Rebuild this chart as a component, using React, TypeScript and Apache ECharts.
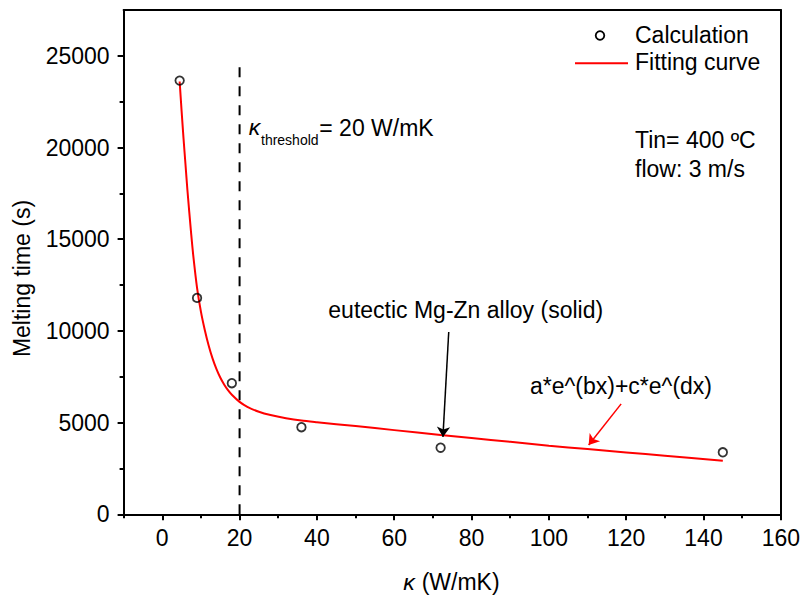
import React, { useEffect, useRef } from 'react';
import * as echarts from 'echarts';

// Calculated points
const calcX = [4.5, 9, 18, 36, 72, 145];
const calcY = [23650, 11800, 7150, 4750, 3630, 3380];

// Fitting curve
const fitX = [4.5, 5, 5.5, 6, 6.5, 7, 7.5, 8, 9, 10, 11, 12, 13, 14, 15, 16, 17, 18, 20, 22, 25, 28, 32, 36, 40, 50, 60, 72, 80, 90, 100, 110, 120, 130, 145];
const fitY = [23600, 22000, 20500, 19100, 17700, 16450, 15250, 14150, 12350, 11050, 10050, 9200, 8500, 7930, 7460, 7080, 6770, 6520, 6130, 5860, 5590, 5410, 5240, 5110, 5020, 4810, 4590, 4320, 4160, 3950, 3740, 3555, 3375, 3195, 2925];

// Threshold dashed line
const threshX = [20, 20];
const threshY = [0, 24400];

// Annotation arrows [start, end] in data coordinates
const alloyArrow = [[74.1, 9940], [72.6, 4220]];
const fitArrow = [[118.7, 6020], [110.3, 3780]];

// Ticks
const xMajor = [0, 20, 40, 60, 80, 100, 120, 140, 160];
const xMinor = [-10, 10, 30, 50, 70, 90, 110, 130, 150];
const yMajor = [0, 5000, 10000, 15000, 20000, 25000];
const yMinor = [2500, 7500, 12500, 17500, 22500];

const FONT = '"Liberation Sans", Arial, Helvetica, sans-serif';
const FS = 23;

export default function App() {
  const ref = useRef<HTMLDivElement>(null);
  useEffect(() => {
    const chart = echarts.init(ref.current!, null, { renderer: 'svg' });
    const axisLineStyle = { color: '#000', width: 2 };
    const txt = (text: string, x: number, y: number, extra: any = {}) => ({
      type: 'text',
      x,
      y,
      silent: true,
      style: {
        text,
        fill: '#000',
        fontSize: FS,
        fontFamily: FONT,
        align: 'left',
        verticalAlign: 'middle',
        ...extra,
      },
    });
    const option: any = {
      animation: false,
      backgroundColor: '#fff',
      grid: { left: 123.6, right: 21.3, top: 10, bottom: 80.7, containLabel: false },
      xAxis: [
        {
          type: 'value', min: -10, max: 160, interval: 10, position: 'bottom',
          axisLine: { show: true, onZero: false, lineStyle: axisLineStyle },
          axisTick: { show: true, length: 6, lineStyle: axisLineStyle, customValues: xMajor },
          axisLabel: {
            customValues: xMajor,
            formatter: (v: number) => (v % 20 === 0 ? String(v) : ''),
            color: '#000', fontSize: FS, fontFamily: FONT, margin: 12,
          },
          splitLine: { show: false },
        },
        {
          type: 'value', min: -10, max: 160, interval: 10, position: 'bottom',
          axisLine: { show: false, onZero: false },
          axisTick: { show: true, length: 4, lineStyle: axisLineStyle, customValues: xMinor },
          axisLabel: { show: false },
          splitLine: { show: false },
        },
        {
          type: 'value', min: -10, max: 160, interval: 10, position: 'top',
          axisLine: { show: true, onZero: false, lineStyle: axisLineStyle },
          axisTick: { show: false }, axisLabel: { show: false }, splitLine: { show: false },
        },
      ],
      yAxis: [
        {
          type: 'value', min: 0, max: 27500, interval: 2500, position: 'left',
          axisLine: { show: true, onZero: false, lineStyle: axisLineStyle },
          axisTick: { show: true, length: 6, lineStyle: axisLineStyle, customValues: yMajor },
          axisLabel: {
            customValues: yMajor,
            formatter: (v: number) => (v % 5000 === 0 ? String(v) : ''),
            color: '#000', fontSize: FS, fontFamily: FONT, margin: 14,
          },
          splitLine: { show: false },
        },
        {
          type: 'value', min: 0, max: 27500, interval: 2500, position: 'left',
          axisLine: { show: false, onZero: false },
          axisTick: { show: true, length: 4, lineStyle: axisLineStyle, customValues: yMinor },
          axisLabel: { show: false },
          splitLine: { show: false },
        },
        {
          type: 'value', min: 0, max: 27500, interval: 2500, position: 'right',
          axisLine: { show: true, onZero: false, lineStyle: axisLineStyle },
          axisTick: { show: false }, axisLabel: { show: false }, splitLine: { show: false },
        },
      ],
      series: [
        {
          name: 'Threshold',
          type: 'line',
          xAxisIndex: 0, yAxisIndex: 0,
          data: threshX.map((x, i) => [x, threshY[i]]),
          symbol: 'none',
          lineStyle: { color: '#000', width: 2, type: [10, 9] },
          silent: true,
          z: 2,
        },
        {
          name: 'Fitting curve',
          type: 'line',
          xAxisIndex: 0, yAxisIndex: 0,
          data: fitX.map((x, i) => [x, fitY[i]]),
          symbol: 'none',
          smooth: 0.25,
          lineStyle: { color: '#ff0000', width: 2 },
          silent: true,
          z: 3,
        },
        {
          name: 'Calculation',
          type: 'scatter',
          xAxisIndex: 0, yAxisIndex: 0,
          data: calcX.map((x, i) => [x, calcY[i]]),
          symbol: 'circle',
          symbolSize: 8.5,
          itemStyle: { color: 'rgba(0,0,0,0)', borderColor: '#000', borderWidth: 1.8 },
          silent: true,
          z: 4,
          markLine: {
            silent: true,
            symbol: ['none', 'arrow'],
            symbolSize: 10,
            label: { show: false },
            animation: false,
            data: [
              [
                { coord: alloyArrow[0], lineStyle: { color: '#000', width: 1.5, type: 'solid' } },
                { coord: alloyArrow[1] },
              ],
              [
                { coord: fitArrow[0], lineStyle: { color: '#ff0000', width: 1.5, type: 'solid' } },
                { coord: fitArrow[1] },
              ],
            ],
          },
        },
      ],
      graphic: [
        // legend
        { type: 'circle', shape: { cx: 600, cy: 35.5, r: 4.3 }, style: { fill: 'none', stroke: '#000', lineWidth: 1.8 }, silent: true },
        { type: 'line', shape: { x1: 575, y1: 63.3, x2: 628, y2: 63.3 }, style: { stroke: '#ff0000', lineWidth: 2 }, silent: true },
        txt('Calculation', 635, 35.3),
        txt('Fitting curve', 635, 62),
        txt('Tin= 400 ºC', 635, 140.3),
        txt('flow: 3 m/s', 635, 168.8),
        // threshold label
        txt('κ', 248.7, 127, { fontStyle: 'italic' }),
        txt('threshold', 261, 140, { fontSize: 14 }),
        txt('= 20 W/mK', 319.3, 127.7),
        // annotations
        txt('eutectic Mg-Zn alloy (solid)', 328.3, 310.3),
        txt('a*e^(bx)+c*e^(dx)', 530, 386),
        // axis names
        txt('Melting time (s)', 22, 278.5, { align: 'center' }),
        txt('κ', 403.3, 582, { fontStyle: 'italic' }),
        txt('(W/mK)', 421.7, 582),
      ].map((g: any, i: number) => (i === 11 ? { ...g, rotation: Math.PI / 2 } : g)),
    };
    chart.setOption(option);
    return () => chart.dispose();
  }, []);
  return (
    <div
      ref={ref}
      style={{ position: 'absolute', left: 0, top: 0, width: 803, height: 595, background: '#fff' }}
    />
  );
}
